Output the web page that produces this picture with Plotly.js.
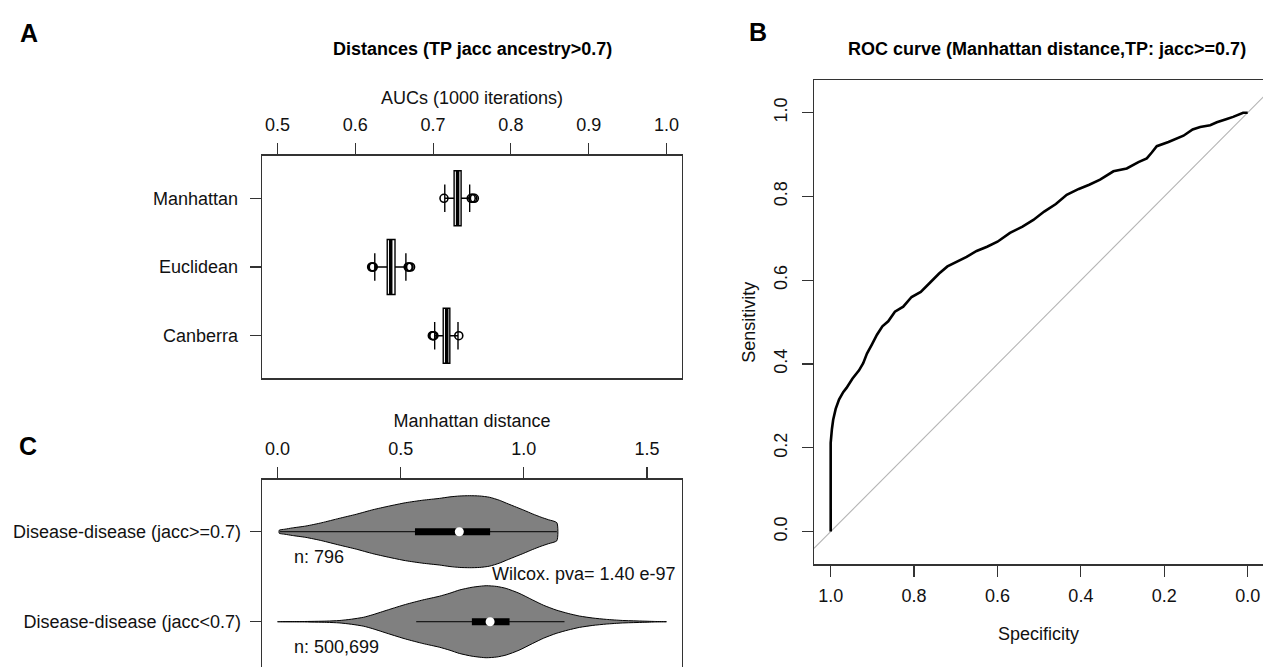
<!DOCTYPE html>
<html>
<head>
<meta charset="utf-8">
<script src="https://cdn.plot.ly/plotly-3.0.1.min.js"></script>
<style>
  html, body { margin: 0; padding: 0; background: #fff; }
  #chart { width: 1263px; height: 667px; }
</style>
</head>
<body>
<div id="chart"></div>
<script>
// ---------- Panel A: AUC boxplots (1000 iterations) ----------
var aucCategories = ["Manhattan", "Euclidean", "Canberra"];
var aucPositions  = [3, 2, 1];
var aucQ1         = [0.727, 0.641, 0.713];
var aucMedian     = [0.7315, 0.6455, 0.7175];
var aucQ3         = [0.736, 0.651, 0.7215];
var aucLowFence   = [0.715, 0.625, 0.702];
var aucHighFence  = [0.747, 0.665, 0.732];
var aucOutlierX   = [0.714, 0.749, 0.751, 0.753,
                     0.621, 0.622, 0.623, 0.668, 0.669, 0.671,
                     0.699, 0.700, 0.701, 0.733];
var aucOutlierY   = [3, 3, 3, 3,
                     2, 2, 2, 2, 2, 2,
                     1, 1, 1, 1];
var aucTicks      = [0.5, 0.6, 0.7, 0.8, 0.9, 1.0];

// ---------- Panel B: ROC curve (Manhattan distance) ----------
var rocSpecificity = [1.000, 1.000, 0.997, 0.994, 0.988, 0.980, 0.970, 0.962, 0.948, 0.932,
                      0.922, 0.913, 0.901, 0.889, 0.876, 0.862, 0.846, 0.826, 0.806, 0.784,
                      0.762, 0.740, 0.720, 0.700, 0.674, 0.650, 0.625, 0.600, 0.570, 0.540,
                      0.514, 0.488, 0.460, 0.434, 0.405, 0.380, 0.354, 0.322, 0.290, 0.262,
                      0.242, 0.230, 0.218, 0.190, 0.154, 0.132, 0.114, 0.090, 0.074, 0.050,
                      0.035, 0.011, 0.000];
var rocSensitivity = [0.000, 0.212, 0.245, 0.267, 0.293, 0.315, 0.333, 0.343, 0.365, 0.385,
                      0.402, 0.425, 0.447, 0.470, 0.490, 0.502, 0.525, 0.537, 0.560, 0.572,
                      0.594, 0.616, 0.633, 0.643, 0.656, 0.670, 0.680, 0.692, 0.713, 0.728,
                      0.744, 0.764, 0.782, 0.804, 0.818, 0.828, 0.840, 0.860, 0.867, 0.882,
                      0.891, 0.905, 0.920, 0.930, 0.945, 0.960, 0.966, 0.970, 0.977, 0.985,
                      0.990, 1.000, 1.000];
var diagSpecificity = [1.04, -0.04];
var diagSensitivity = [-0.04, 1.04];
var rocTicks = [1.0, 0.8, 0.6, 0.4, 0.2, 0.0];

// ---------- Panel C: violin plots of Manhattan distance ----------
var vioCategories = ["Disease-disease (jacc>=0.7)", "Disease-disease (jacc<0.7)"];
var vioPositions  = [2, 1];
var vioCounts     = ["n: 796", "n: 500,699"];
var vio1X  = [0.007, 0.03, 0.06, 0.115, 0.18, 0.25, 0.32, 0.387, 0.45, 0.52, 0.59, 0.657, 0.70,
              0.74, 0.78, 0.82, 0.86, 0.90, 0.93, 0.97, 1.0, 1.036, 1.07, 1.10, 1.134];
var vio1HW = [0.017, 0.028, 0.042, 0.063, 0.10, 0.148, 0.194, 0.244, 0.283, 0.322, 0.350, 0.370, 0.387,
              0.397, 0.400, 0.397, 0.383, 0.350, 0.316, 0.272, 0.239, 0.197, 0.161, 0.133, 0.10];
var vio2X  = [0.0, 0.1, 0.2, 0.25, 0.3, 0.35, 0.387, 0.45, 0.52, 0.59, 0.657, 0.70, 0.738, 0.79,
              0.847, 0.89, 0.928, 0.98, 1.036, 1.08, 1.131, 1.18, 1.226, 1.28, 1.335, 1.40, 1.47, 1.53, 1.579];
var vio2HW = [0.0, 0.002, 0.007, 0.013, 0.028, 0.050, 0.078, 0.133, 0.192, 0.242, 0.283, 0.317, 0.352, 0.383,
              0.400, 0.392, 0.370, 0.317, 0.241, 0.183, 0.130, 0.092, 0.063, 0.041, 0.026, 0.014, 0.008, 0.003, 0.0];
var vioWhiskLo = [0.010, 0.563];
var vioWhiskHi = [1.134, 1.165];
var vioQ1      = [0.558, 0.789];
var vioQ3      = [0.863, 0.942];
var vioMedian  = [0.738, 0.863];
var vioTicks   = [0.0, 0.5, 1.0, 1.5];
var wilcoxText = "Wilcox. pva= 1.40 e-97";

// ---------- helpers ----------
var W = 1263, H = 667;
function px(x) { return x / W; }
function py(y) { return 1 - y / H; }
var FONT = "Liberation Sans, Arial, Helvetica, sans-serif";
var INK = "#111";
var LINE = "#333";

var traces = [];

// Panel A boxes
traces.push({
  type: "box", orientation: "h", xaxis: "x", yaxis: "y",
  y: aucPositions, q1: aucQ1, median: aucMedian, q3: aucQ3,
  lowerfence: aucLowFence, upperfence: aucHighFence,
  width: 0.8, whiskerwidth: 0.5, boxpoints: false,
  fillcolor: "#ffffff", line: { color: "#000", width: 1.4 },
  hoverinfo: "skip"
});
// thick median lines (R style)
var medX = [], medY = [];
for (var i = 0; i < aucMedian.length; i++) {
  medX.push(aucMedian[i], aucMedian[i], null);
  medY.push(aucPositions[i] - 0.4, aucPositions[i] + 0.4, null);
}
traces.push({
  type: "scatter", mode: "lines", xaxis: "x", yaxis: "y",
  x: medX, y: medY, line: { color: "#000", width: 3.5 }, hoverinfo: "skip"
});
traces.push({
  type: "scatter", mode: "markers", xaxis: "x", yaxis: "y",
  x: aucOutlierX, y: aucOutlierY,
  marker: { symbol: "circle-open", size: 8, color: "#000", line: { width: 1.6, color: "#000" } },
  hoverinfo: "skip"
});

// Panel B ROC
traces.push({
  type: "scatter", mode: "lines", xaxis: "x3", yaxis: "y3",
  x: diagSpecificity, y: diagSensitivity,
  line: { color: "#b4b4b4", width: 1.1 }, hoverinfo: "skip"
});
traces.push({
  type: "scatter", mode: "lines", xaxis: "x3", yaxis: "y3",
  x: rocSpecificity, y: rocSensitivity,
  line: { color: "#000", width: 2.6 }, hoverinfo: "skip"
});

// Panel C violins
function violinTrace(xs, hws, center) {
  var X = [], Y = [];
  for (var i = 0; i < xs.length; i++) { X.push(xs[i]); Y.push(center + hws[i]); }
  for (var j = xs.length - 1; j >= 0; j--) { X.push(xs[j]); Y.push(center - hws[j]); }
  X.push(xs[0]); Y.push(center + hws[0]);
  return {
    type: "scatter", mode: "lines", xaxis: "x2", yaxis: "y2",
    x: X, y: Y, fill: "toself", fillcolor: "#808080",
    line: { color: "#000", width: 1, shape: "spline", smoothing: 0.6 }, hoverinfo: "skip"
  };
}
traces.push(violinTrace(vio1X, vio1HW, vioPositions[0]));
traces.push(violinTrace(vio2X, vio2HW, vioPositions[1]));
var wX = [], wY = [], bX = [], bY = [];
for (var k = 0; k < vioPositions.length; k++) {
  wX.push(vioWhiskLo[k], vioWhiskHi[k], null); wY.push(vioPositions[k], vioPositions[k], null);
  bX.push(vioQ1[k], vioQ3[k], null); bY.push(vioPositions[k], vioPositions[k], null);
}
traces.push({ type: "scatter", mode: "lines", xaxis: "x2", yaxis: "y2",
  x: wX, y: wY, line: { color: "#000", width: 1 }, hoverinfo: "skip" });
traces.push({ type: "scatter", mode: "lines", xaxis: "x2", yaxis: "y2",
  x: bX, y: bY, line: { color: "#000", width: 7 }, hoverinfo: "skip" });
traces.push({ type: "scatter", mode: "markers", xaxis: "x2", yaxis: "y2",
  x: vioMedian, y: vioPositions,
  marker: { symbol: "circle", size: 9, color: "#ffffff", line: { width: 0 } }, hoverinfo: "skip" });

var tickFont = { family: FONT, size: 18, color: INK };
var axisCommon = {
  showgrid: false, zeroline: false, showline: true, linecolor: LINE, linewidth: 1.3,
  ticks: "outside", ticklen: 11, tickcolor: LINE, tickwidth: 1.2,
  tickfont: tickFont, fixedrange: true
};
function merge(a, b) { var o = {}; for (var k in a) o[k] = a[k]; for (var k2 in b) o[k2] = b[k2]; return o; }

var layout = {
  width: W, height: H,
  margin: { l: 0, r: 0, t: 0, b: 0 },
  paper_bgcolor: "#fff", plot_bgcolor: "#fff",
  showlegend: false,
  font: { family: FONT, size: 18, color: INK },
  // Panel A
  xaxis: merge(axisCommon, {
    domain: [px(262), px(682)], range: [0.48, 1.02], anchor: "y", side: "top", mirror: true,
    tickvals: aucTicks, tickformat: ".1f", ticklabelstandoff: 5,
    title: { text: "AUCs (1000 iterations)", font: { family: FONT, size: 18, color: INK }, standoff: 6 }
  }),
  yaxis: merge(axisCommon, {
    domain: [py(378.3), py(155.7)], range: [0.38, 3.62], anchor: "x", mirror: true,
    tickvals: aucPositions, ticktext: aucCategories, ticklabelstandoff: 8
  }),
  // Panel C
  xaxis2: merge(axisCommon, {
    domain: [px(262), px(682)], range: [-0.063, 1.642], anchor: "y2", side: "top", mirror: false,
    tickvals: vioTicks, tickformat: ".1f", ticklabelstandoff: 5,
    title: { text: "Manhattan distance", font: { family: FONT, size: 18, color: INK }, standoff: 6 }
  }),
  yaxis2: merge(axisCommon, {
    domain: [0, py(479.5)], range: [0.497, 2.58], anchor: "x2", mirror: true,
    tickvals: vioPositions, ticktext: vioCategories, ticklabelstandoff: 5
  }),
  // Panel B
  xaxis3: merge(axisCommon, {
    domain: [px(814), 1], range: [1.04, -0.0367], anchor: "y3", side: "bottom", mirror: true,
    tickvals: rocTicks, tickformat: ".1f", ticklabelstandoff: 4,
    title: { text: "Specificity", font: { family: FONT, size: 18, color: INK }, standoff: 22 }
  }),
  yaxis3: merge(axisCommon, {
    domain: [py(564.3), py(80)], range: [-0.078, 1.078], anchor: "x3", mirror: false,
    tickvals: rocTicks, tickformat: ".1f", tickangle: -90, ticklabelstandoff: 8,
    title: { text: "Sensitivity", font: { family: FONT, size: 18, color: INK }, standoff: 10 }
  }),
  annotations: [
    { text: "<b>A</b>", x: px(29), y: py(33), xref: "paper", yref: "paper", showarrow: false,
      xanchor: "center", yanchor: "middle", font: { family: FONT, size: 25, color: "#000" } },
    { text: "<b>B</b>", x: px(758), y: py(32), xref: "paper", yref: "paper", showarrow: false,
      xanchor: "center", yanchor: "middle", font: { family: FONT, size: 25, color: "#000" } },
    { text: "<b>C</b>", x: px(28), y: py(446), xref: "paper", yref: "paper", showarrow: false,
      xanchor: "center", yanchor: "middle", font: { family: FONT, size: 25, color: "#000" } },
    { text: "<b>Distances (TP jacc ancestry>0.7)</b>", x: px(472), y: py(49), xref: "paper", yref: "paper",
      showarrow: false, xanchor: "center", yanchor: "middle", font: { family: FONT, size: 18, color: "#000" } },
    { text: "<b>ROC curve (Manhattan distance,TP: jacc>=0.7)</b>", x: px(1047), y: py(49), xref: "paper", yref: "paper",
      showarrow: false, xanchor: "center", yanchor: "middle", font: { family: FONT, size: 18, color: "#000" } },
    { text: vioCounts[0], x: 0.06, y: 1.72, xref: "x2", yref: "y2", showarrow: false,
      xanchor: "left", yanchor: "middle", font: tickFont },
    { text: vioCounts[1], x: 0.06, y: 0.72, xref: "x2", yref: "y2", showarrow: false,
      xanchor: "left", yanchor: "middle", font: tickFont },
    { text: wilcoxText, x: 1.625, y: 1.53, xref: "x2", yref: "y2", showarrow: false,
      xanchor: "right", yanchor: "middle", font: tickFont }
  ]
};

Plotly.newPlot("chart", traces, layout, { staticPlot: true, displayModeBar: false });
</script>
</body>
</html>
